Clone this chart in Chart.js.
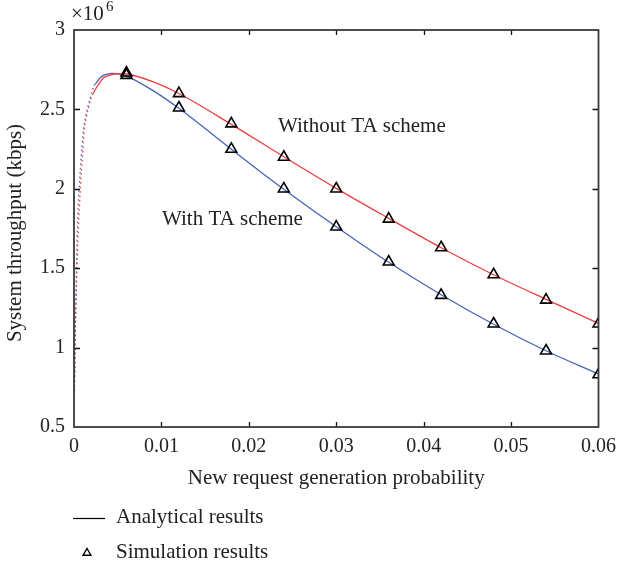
<!DOCTYPE html>
<html>
<head>
<meta charset="utf-8">
<script src="https://cdn.jsdelivr.net/npm/chart.js@4"></script>
<style>
  body { margin: 0; background: #fff; }
</style>
</head>
<body>
<canvas id="myChart" width="624" height="564"></canvas>
<script>
// simulation points (triangles)
const simX = [0.006, 0.012, 0.018, 0.024, 0.030, 0.036, 0.042, 0.048, 0.054, 0.060];
const simWithout = [2.73, 2.60, 2.41, 2.20, 2.00, 1.81, 1.63, 1.46, 1.30, 1.15];
const simWith = [2.715, 2.51, 2.25, 2.00, 1.76, 1.54, 1.33, 1.15, 0.98, 0.83];

// analytical curves
const anaXWithout = [0.00005, 0.00016, 0.00027, 0.00038, 0.0005, 0.0006, 0.0007, 0.0008, 0.0009, 0.0012,
  0.0014, 0.0017, 0.0019, 0.0022, 0.0026, 0.003, 0.0033, 0.0039, 0.0047, 0.0056,
  0.006, 0.009, 0.012, 0.018, 0.024, 0.030, 0.036, 0.042, 0.048, 0.054, 0.060];
const anaWithout = [0.70, 1.10, 1.37, 1.57, 1.74, 1.86, 1.97, 2.07, 2.14, 2.38,
  2.45, 2.52, 2.56, 2.60, 2.64, 2.674, 2.696, 2.712, 2.723, 2.724,
  2.723, 2.675, 2.60, 2.406, 2.202, 2.003, 1.814, 1.629, 1.459, 1.304, 1.153];

const anaXWith = [0.00008, 0.00019, 0.0003, 0.00038, 0.00049, 0.00061, 0.00072, 0.00091, 0.0011, 0.0013,
  0.00155, 0.0018, 0.002, 0.0023, 0.0026, 0.003, 0.0035, 0.0043, 0.005,
  0.006, 0.009, 0.012, 0.018, 0.024, 0.030, 0.036, 0.042, 0.048, 0.054, 0.060];
const anaWith = [0.82, 1.25, 1.53, 1.74, 1.90, 2.02, 2.12, 2.27, 2.38, 2.45,
  2.51, 2.56, 2.60, 2.65, 2.67, 2.70, 2.717, 2.727, 2.725,
  2.71, 2.62, 2.507, 2.249, 1.997, 1.761, 1.537, 1.333, 1.147, 0.98, 0.833];

const xTicks = [0, 0.01, 0.02, 0.03, 0.04, 0.05, 0.06];
const yTicks = [0.5, 1, 1.5, 2, 2.5, 3];

const RED = 'rgb(240,62,62)';
const BLUE = 'rgb(70,100,185)';
const FONT = '"Liberation Serif", "DejaVu Serif", serif';

function pts(xs, ys) {
  return xs.map((x, i) => ({ x: x, y: ys[i] }));
}

// steep rising part is dotted in the reference
const steepDash = ctx => ctx.p1.parsed.x <= 0.0023 ? [1.5, 3] : undefined;

// frame, inward ticks and all the texts
const decorPlugin = {
  id: 'decor',
  afterDatasetsDraw(chart) {
    const c = chart.ctx;
    const a = chart.chartArea;
    const xs = chart.scales.x, ys = chart.scales.y;
    c.save();
    c.strokeStyle = '#111';
    c.lineWidth = 1.3;
    c.beginPath();
    xTicks.forEach(v => {
      const px = Math.round(xs.getPixelForValue(v)) + 0.5;
      if (v > xTicks[0] && v < xTicks[xTicks.length - 1]) {
        c.moveTo(px, a.bottom); c.lineTo(px, a.bottom - 5);
        c.moveTo(px, a.top); c.lineTo(px, a.top + 5);
      }
    });
    yTicks.forEach(v => {
      const py = Math.round(ys.getPixelForValue(v)) + 0.5;
      if (v > yTicks[0] && v < yTicks[yTicks.length - 1]) {
        c.moveTo(a.left, py); c.lineTo(a.left + 6, py);
        c.moveTo(a.right, py); c.lineTo(a.right - 6, py);
      }
    });
    c.stroke();
    c.strokeStyle = '#3a3a3a';
    c.lineWidth = 1.8;
    c.strokeRect(a.left, a.top, a.right - a.left, a.bottom - a.top);

    c.fillStyle = '#222';
    c.textBaseline = 'middle';
    // x10^6
    c.font = '21px ' + FONT;
    c.textAlign = 'left';
    c.fillText('\u00d710', 71, 14);
    c.font = '15px ' + FONT;
    c.fillText('6', 106, 7);

    // axis titles
    c.font = '21px ' + FONT;
    c.textAlign = 'center';
    c.fillText('New request generation probability', (a.left + a.right) / 2, 478);
    c.save();
    c.translate(15, 233);
    c.rotate(-Math.PI / 2);
    c.fillText('System throughput (kbps)', 0, 0);
    c.restore();

    // curve labels
    c.textAlign = 'left';
    c.fillText('Without TA scheme', 278, 126);
    c.fillText('With TA scheme', 162, 219);

    // legend
    c.fillText('Analytical results', 116, 517);
    c.fillText('Simulation results', 116, 552);
    c.strokeStyle = '#000';
    c.lineWidth = 1.2;
    c.beginPath();
    c.moveTo(73, 518.5); c.lineTo(105, 518.5);
    c.stroke();
    c.restore();
    // legend triangle drawn the same way as the chart markers
    c.save();
    c.strokeStyle = '#000';
    c.fillStyle = 'rgba(0,0,0,0)';
    c.lineWidth = 1.4;
    Chart.helpers.drawPoint(c, { pointStyle: 'triangle', radius: 4.5, borderWidth: 1.4 }, 87, 553);
    c.restore();
  }
};

var ctx = document.getElementById('myChart').getContext('2d');
var myChart = new Chart(ctx, {
  type: 'scatter',
  data: {
    datasets: [
      {
        label: 'Simulation (without TA)',
        data: pts(simX, simWithout),
        showLine: false,
        pointStyle: 'triangle',
        pointRadius: 6.3,
        borderColor: '#000',
        backgroundColor: 'rgba(0,0,0,0)',
        pointBorderWidth: 1.6,
        order: 0
      },
      {
        label: 'Simulation (with TA)',
        data: pts(simX, simWith),
        showLine: false,
        pointStyle: 'triangle',
        pointRadius: 6.3,
        borderColor: '#000',
        backgroundColor: 'rgba(0,0,0,0)',
        pointBorderWidth: 1.6,
        order: 0
      },
      {
        label: 'Without TA scheme',
        data: pts(anaXWithout, anaWithout),
        showLine: true,
        pointRadius: 0,
        borderColor: RED,
        borderWidth: 1.3,
        cubicInterpolationMode: 'monotone',
        segment: { borderDash: steepDash },
        order: 1
      },
      {
        label: 'With TA scheme',
        data: pts(anaXWith, anaWith),
        showLine: true,
        pointRadius: 0,
        borderColor: BLUE,
        borderWidth: 1.3,
        cubicInterpolationMode: 'monotone',
        segment: { borderDash: steepDash },
        order: 1
      }
    ]
  },
  options: {
    responsive: false,
    animation: false,
    devicePixelRatio: 1,
    layout: { padding: { left: 0, top: 30, right: 22, bottom: 0 } },
    plugins: {
      legend: { display: false },
      tooltip: { enabled: false }
    },
    scales: {
      x: {
        type: 'linear',
        min: 0,
        max: 0.06,
        afterFit: s => { s.height = 137; },
        afterBuildTicks: s => { s.ticks = xTicks.map(v => ({ value: v })); },
        grid: { display: false, drawTicks: false },
        border: { display: false },
        ticks: {
          padding: 8,
          color: '#222',
          font: { family: FONT, size: 20 },
          callback: v => String(+v.toFixed(2))
        }
      },
      y: {
        type: 'linear',
        min: 0.5,
        max: 3,
        afterFit: s => { s.width = 74; },
        afterBuildTicks: s => { s.ticks = yTicks.map(v => ({ value: v })); },
        grid: { display: false, drawTicks: false },
        border: { display: false },
        ticks: {
          padding: 9,
          color: '#222',
          font: { family: FONT, size: 20 },
          callback: v => String(v)
        }
      }
    }
  },
  plugins: [decorPlugin]
});
</script>
</body>
</html>
